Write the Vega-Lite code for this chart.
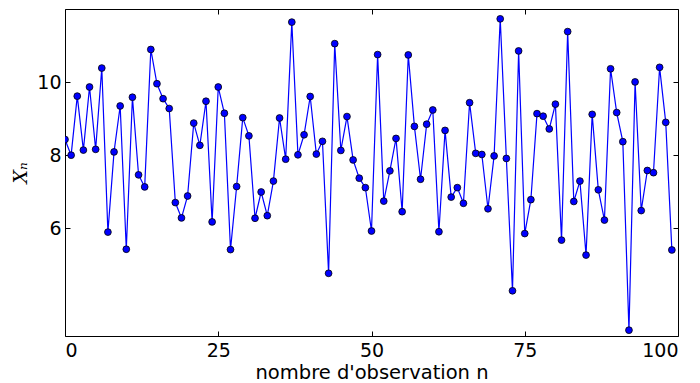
{
  "$schema": "https://vega.github.io/schema/vega-lite/v6.json",
  "width": 613,
  "height": 327,
  "autosize": "none",
  "padding": {"left": 65, "top": 9, "right": 22, "bottom": 47},
  "background": "white",
  "config": {
    "view": {"stroke": "black", "strokeWidth": 1},
    "axis": {"grid": false, "domain": false, "tickColor": "black", "labelColor": "black", "labelFont": "DejaVu Sans", "labelFontSize": 19, "titleFont": "DejaVu Sans", "titleFontSize": 19.5, "titleFontWeight": "normal", "titleColor": "black"}
  },
  "data": {"values": [
    {"n":0,"x":8.43},{"n":1,"x":8.0},{"n":2,"x":9.62},{"n":3,"x":8.14},{"n":4,"x":9.87},
    {"n":5,"x":8.16},{"n":6,"x":10.39},{"n":7,"x":5.89},{"n":8,"x":8.09},{"n":9,"x":9.35},
    {"n":10,"x":5.42},{"n":11,"x":9.59},{"n":12,"x":7.46},{"n":13,"x":7.13},{"n":14,"x":10.9},
    {"n":15,"x":9.96},{"n":16,"x":9.55},{"n":17,"x":9.28},{"n":18,"x":6.7},{"n":19,"x":6.28},
    {"n":20,"x":6.88},{"n":21,"x":8.88},{"n":22,"x":8.27},{"n":23,"x":9.48},{"n":24,"x":6.17},
    {"n":25,"x":9.87},{"n":26,"x":9.15},{"n":27,"x":5.41},{"n":28,"x":7.14},{"n":29,"x":9.03},
    {"n":30,"x":8.53},{"n":31,"x":6.27},{"n":32,"x":6.99},{"n":33,"x":6.34},{"n":34,"x":7.29},
    {"n":35,"x":9.02},{"n":36,"x":7.89},{"n":37,"x":11.65},{"n":38,"x":8.01},{"n":39,"x":8.56},
    {"n":40,"x":9.61},{"n":41,"x":8.03},{"n":42,"x":8.38},{"n":43,"x":4.76},{"n":44,"x":11.06},
    {"n":45,"x":8.13},{"n":46,"x":9.06},{"n":47,"x":7.87},{"n":48,"x":7.37},{"n":49,"x":7.11},
    {"n":50,"x":5.92},{"n":51,"x":10.76},{"n":52,"x":6.74},{"n":53,"x":7.57},{"n":54,"x":8.46},
    {"n":55,"x":6.45},{"n":56,"x":10.75},{"n":57,"x":8.79},{"n":58,"x":7.34},{"n":59,"x":8.85},
    {"n":60,"x":9.24},{"n":61,"x":5.9},{"n":62,"x":8.68},{"n":63,"x":6.85},{"n":64,"x":7.11},
    {"n":65,"x":6.68},{"n":66,"x":9.44},{"n":67,"x":8.05},{"n":68,"x":8.02},{"n":69,"x":6.53},
    {"n":70,"x":7.98},{"n":71,"x":11.74},{"n":72,"x":7.91},{"n":73,"x":4.28},{"n":74,"x":10.86},
    {"n":75,"x":5.85},{"n":76,"x":6.78},{"n":77,"x":9.14},{"n":78,"x":9.07},{"n":79,"x":8.72},
    {"n":80,"x":9.4},{"n":81,"x":5.67},{"n":82,"x":11.39},{"n":83,"x":6.73},{"n":84,"x":7.29},
    {"n":85,"x":5.26},{"n":86,"x":9.12},{"n":87,"x":7.05},{"n":88,"x":6.22},{"n":89,"x":10.37},
    {"n":90,"x":9.17},{"n":91,"x":8.37},{"n":92,"x":3.2},{"n":93,"x":10.01},{"n":94,"x":6.48},
    {"n":95,"x":7.58},{"n":96,"x":7.52},{"n":97,"x":10.41},{"n":98,"x":8.9},{"n":99,"x":5.4}
  ]},
  "encoding": {
    "x": {"field": "n", "type": "quantitative", "scale": {"domain": [0, 100], "nice": false, "zero": false}},
    "y": {"field": "x", "type": "quantitative", "scale": {"domain": [3.04, 12.01], "nice": false, "zero": false}}
  },
  "layer": [
    {
      "mark": {"type": "line", "color": "#0000ff", "strokeWidth": 1.2, "clip": true},
      "encoding": {
        "x": {"field": "n", "type": "quantitative", "axis": {"orient": "bottom", "values": [0, 25, 50, 75, 100], "tickSize": -5, "labelPadding": 10.5, "title": "nombre d'observation n", "titlePadding": 2.5}},
        "y": {"field": "x", "type": "quantitative", "axis": {"orient": "left", "values": [6, 8, 10], "tickSize": -5, "labelPadding": 9, "title": "Xₙ", "titleFont": "DejaVu Serif", "titleFontStyle": "italic", "titleFontSize": 19, "titlePadding": 6}}
      }
    },
    {
      "mark": {"type": "point", "filled": true, "fill": "#0000ff", "stroke": "black", "strokeWidth": 0.8, "size": 46, "opacity": 1, "clip": true},
      "encoding": {
        "x": {"field": "n", "type": "quantitative", "axis": {"orient": "top", "values": [0, 25, 50, 75, 100], "tickSize": -5, "labels": false, "title": null}},
        "y": {"field": "x", "type": "quantitative", "axis": {"orient": "right", "values": [6, 8, 10], "tickSize": -5, "labels": false, "title": null}}
      }
    }
  ],
  "resolve": {"axis": {"x": "independent", "y": "independent"}}
}
